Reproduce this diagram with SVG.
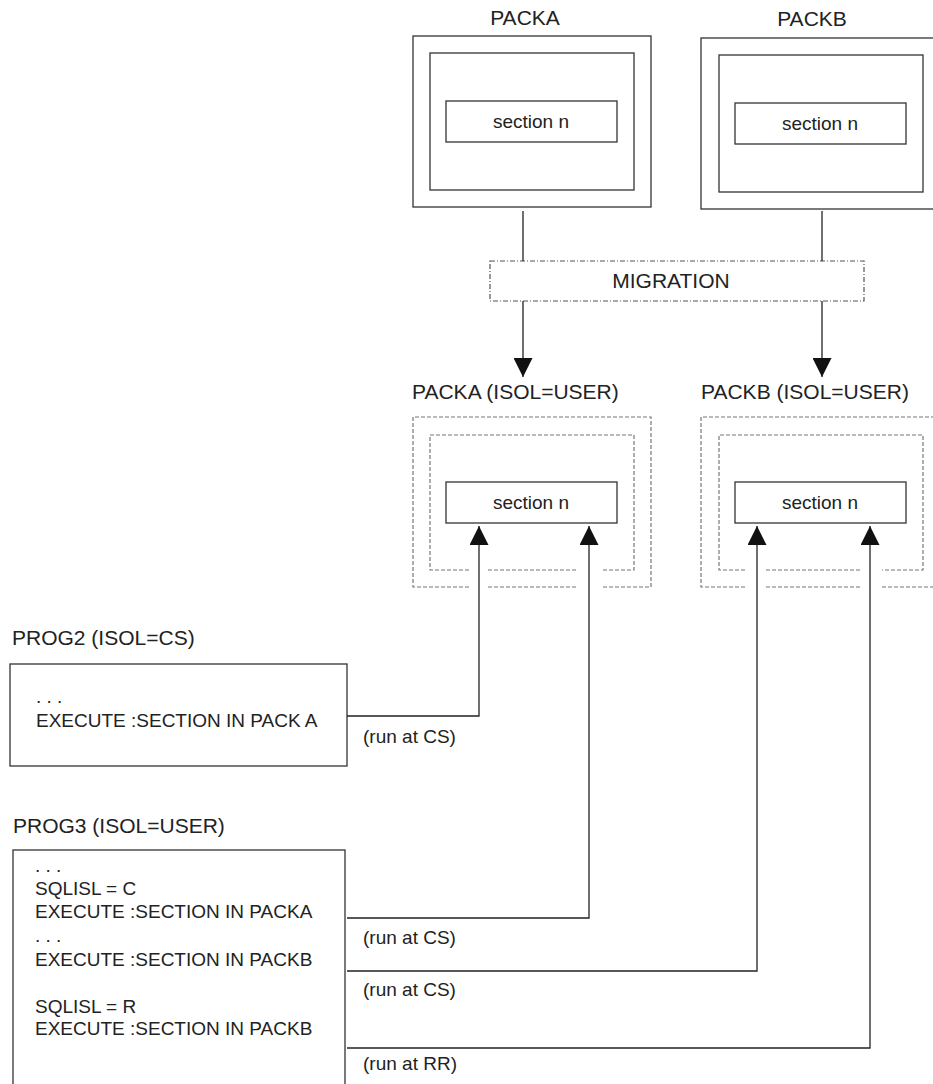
<svg xmlns="http://www.w3.org/2000/svg" width="933" height="1084" viewBox="0 0 933 1084">
<style>
.box{fill:#fff;stroke:#333;stroke-width:1.3}
.dash{fill:none;stroke:#777;stroke-width:1.2;stroke-dasharray:4 2}
.mig{fill:none;stroke:#555;stroke-width:1.2;stroke-dasharray:5 2 1 2}
.ln{fill:none;stroke:#222;stroke-width:1.3}
.t{font-family:"Liberation Sans",Arial,sans-serif;fill:#222}
.lbl{font-size:21px}
.body{font-size:19px}
.mid{text-anchor:middle}
</style>
<defs>
<marker id="arr" viewBox="0 0 20 20" refX="20" refY="10" markerWidth="20" markerHeight="19" orient="auto" markerUnits="userSpaceOnUse">
<path d="M0,0 L20,10 L0,20 z" fill="#111"/>
</marker>
</defs>
<rect width="933" height="1084" fill="#fff"/>

<g id="packa">
<text class="t lbl mid" x="525" y="25">PACKA</text>
<rect class="box" x="413" y="36" width="238" height="171"/>
<rect class="box" x="430" y="53" width="204" height="137"/>
<rect class="box" x="446" y="101" width="171" height="41"/>
<text class="t body mid" x="531" y="128">section n</text>
</g>

<g id="packb">
<text class="t lbl mid" x="812" y="26">PACKB</text>
<rect class="box" x="701" y="38" width="240" height="171"/>
<rect class="box" x="719" y="55" width="204" height="137"/>
<rect class="box" x="735" y="103" width="171" height="41"/>
<text class="t body mid" x="820" y="130">section n</text>
</g>

<g id="migration">
<rect class="mig" x="490" y="261" width="374" height="40"/>
<text class="t lbl mid" x="671" y="288">MIGRATION</text>
</g>

<g id="packa-user">
<text class="t lbl" x="412" y="399">PACKA (ISOL=USER)</text>
<path class="dash" d="M469,587 H413 V417 H651 V587 H603 M488,587 H577"/>
<path class="dash" d="M469,570 H430 V435 H634 V570 H603 M488,570 H577"/>
<rect class="box" x="446" y="482" width="171" height="41"/>
<text class="t body mid" x="531" y="509">section n</text>
</g>

<g id="packb-user">
<text class="t lbl" x="701" y="399">PACKB (ISOL=USER)</text>
<path class="dash" d="M745,587 H701 V417 H945 M882,587 H945 M766,587 H861"/>
<path class="dash" d="M745,570 H719 V435 H923 V570 H882 M766,570 H861"/>
<rect class="box" x="735" y="482" width="171" height="41"/>
<text class="t body mid" x="820" y="509">section n</text>
</g>

<g id="prog2">
<text class="t lbl" x="12" y="645">PROG2 (ISOL=CS)</text>
<rect class="box" x="10" y="664" width="337" height="102"/>
<text class="t body" x="36" y="703">. . .</text>
<text class="t body" x="36" y="727">EXECUTE :SECTION IN PACK A</text>
</g>

<g id="prog3">
<text class="t lbl" x="13" y="833">PROG3 (ISOL=USER)</text>
<rect class="box" x="13" y="850" width="332" height="250"/>
<text class="t body" x="35" y="872">. . .</text>
<text class="t body" x="35" y="895">SQLISL = C</text>
<text class="t body" x="35" y="918">EXECUTE :SECTION IN PACKA</text>
<text class="t body" x="35" y="942">. . .</text>
<text class="t body" x="35" y="966">EXECUTE :SECTION IN PACKB</text>
<text class="t body" x="35" y="1013">SQLISL = R</text>
<text class="t body" x="35" y="1035">EXECUTE :SECTION IN PACKB</text>
</g>

<g id="connectors">
<path class="ln" d="M523,211 V261"/>
<path class="ln" d="M822,211 V261"/>
<path class="ln" d="M523,301 V377" marker-end="url(#arr)"/>
<path class="ln" d="M822,301 V377" marker-end="url(#arr)"/>
<path class="ln" d="M347,716 H479 V526" marker-end="url(#arr)"/>
<path class="ln" d="M347,918 H589 V526" marker-end="url(#arr)"/>
<path class="ln" d="M347,971 H757 V526" marker-end="url(#arr)"/>
<path class="ln" d="M347,1048 H870 V526" marker-end="url(#arr)"/>
<text class="t body" x="363" y="743">(run at CS)</text>
<text class="t body" x="363" y="944">(run at CS)</text>
<text class="t body" x="363" y="996">(run at CS)</text>
<text class="t body" x="363" y="1070">(run at RR)</text>
</g>
</svg>
